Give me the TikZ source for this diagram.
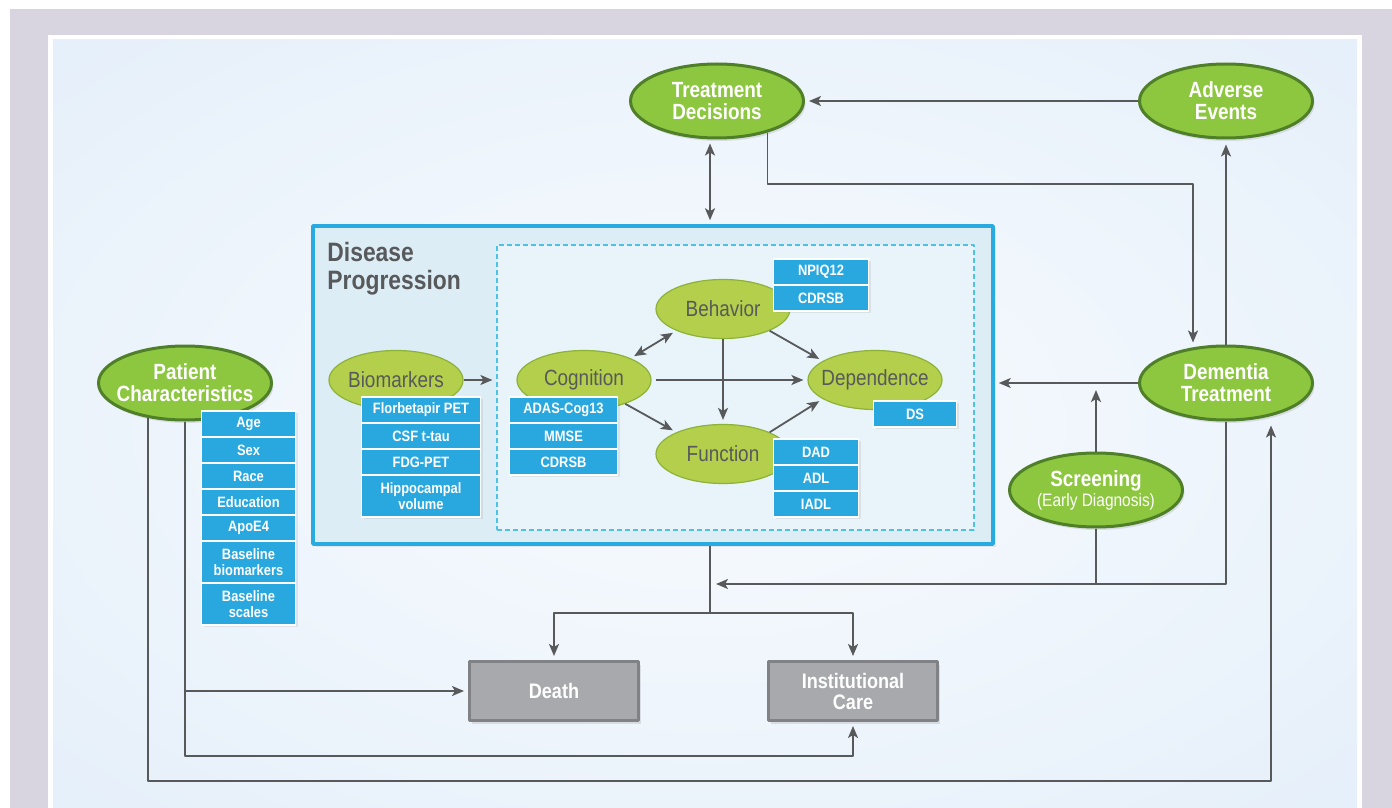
\documentclass[tikz,border=0pt]{standalone}
\usepackage{fontspec}
\setmainfont{Liberation Sans}[FakeStretch=0.86]
\usetikzlibrary{shapes.geometric,arrows.meta,positioning,shadows}

\definecolor{frame}{HTML}{D9D5E0}
\definecolor{panel}{HTML}{D3E4F5}
\definecolor{panelmid}{HTML}{F8FBFE}
\definecolor{dkgreen}{HTML}{8DC63F}
\definecolor{dkgreenline}{HTML}{4F7F28}
\definecolor{ltgreen}{HTML}{B3CF4B}
\definecolor{ltgreenline}{HTML}{8CB23A}
\definecolor{tagblue}{HTML}{29A8E0}
\definecolor{dpline}{HTML}{29ABE2}
\definecolor{dpfill}{HTML}{DCEDF6}
\definecolor{dashline}{HTML}{4EC2E2}
\definecolor{dashfill}{HTML}{E8F4FA}
\definecolor{txtgray}{HTML}{58595B}
\definecolor{boxfill}{HTML}{A7A9AC}
\definecolor{boxline}{HTML}{808285}

\tikzset{
  outer/.style={ellipse, draw=dkgreenline, fill=dkgreen, line width=1.5pt,
    minimum width=86.5pt, minimum height=37pt, inner ysep=0pt, inner xsep=-4pt,
    align=center, text=white, font=\bfseries\fontsize{11}{11}\selectfont,
    drop shadow={shadow xshift=1pt, shadow yshift=-1.5pt, opacity=.2}},
  inner/.style={ellipse, draw=ltgreenline, fill=ltgreen, line width=.6pt,
    minimum width=67pt, minimum height=29.5pt, inner ysep=0pt, inner xsep=-4pt,
    text=txtgray, font=\fontsize{11}{11}\selectfont},
  tag/.style={rectangle, draw=white, fill=tagblue, line width=.7pt,
    minimum height=13pt, inner sep=0pt, outer sep=0pt, align=center,
    text=white, font=\bfseries\fontsize{7.5}{8}\selectfont,
    drop shadow={shadow xshift=1pt, shadow yshift=-1pt, opacity=.15}},
  tagtwo/.style={tag, minimum height=21pt},
  outcome/.style={rectangle, draw=boxline, fill=boxfill, line width=1.5pt,
    minimum width=84.5pt, minimum height=29.5pt, inner sep=0pt, align=center,
    text=white, font=\bfseries\fontsize{10.5}{10.5}\selectfont,
    drop shadow={shadow xshift=1pt, shadow yshift=-1.5pt, opacity=.2}},
  dpbox/.style={rectangle, draw=dpline, fill=dpfill, line width=1.75pt,
    minimum width=340pt, minimum height=159pt,
    drop shadow={shadow xshift=1.5pt, shadow yshift=-1.5pt, opacity=.15}},
  dashbox/.style={rectangle, draw=dashline, fill=dashfill, line width=.6pt,
    dash pattern=on 2.5pt off 1.5pt, minimum width=238.5pt, minimum height=142.5pt},
  link/.style={draw=txtgray, line width=.9pt, ->},
  plain/.style={draw=txtgray, line width=.9pt},
}

\begin{document}
\begin{tikzpicture}[x=0.5pt, y=-0.5pt, line join=round,
  >={Stealth[length=6pt,width=5pt,inset=1.5pt]}]
\useasboundingbox (0,0) rectangle (1392,808);
% frame and panel
\fill[white] (0,0) rectangle (1392,808);
\fill[frame] (10,9) rectangle (1392,808);
\fill[white] (48,35) rectangle (1362,808);
\begin{scope}
  \clip (53,40) rectangle (1357,808);
  \shade[inner color=panelmid, outer color=panel] (705,424) ellipse (1844 and 1086);
\end{scope}

% disease progression
\node[dpbox] (dp) at (653,385) {};
\node[dashbox] (dash) at (735.5,387.5) {};
\node[anchor=north west, inner sep=0pt, align=left, text=txtgray,
  font=\bfseries\fontsize{13.3}{14}\selectfont] (dptitle) at (327,242) {Disease\\Progression};

\node[inner] (Bio) at (396,380) {Biomarkers};
\node[inner] (Cog) at (584,380) {Cognition};
\node[inner] (Beh) at (723,309) {Behavior};
\node[inner] (Dep) at (875,380) {Dependence};
\node[inner] (Fun) at (723,454) {Function};

% outer nodes
\node[outer] (PC) at (185,383) {Patient\\Characteristics};
\node[outer] (TD) at (717,101) {Treatment\\Decisions};
\node[outer] (AE) at (1226,101) {Adverse\\Events};
\node[outer] (DT) at (1226,383) {Dementia\\Treatment};
\node[outer] (Scr) at (1096,490) {Screening\\[-1pt]{\mdseries\fontsize{9}{9}\selectfont(Early Diagnosis)}};

% measures
\begin{scope}[every node/.append style={minimum width=47pt}]
\node[tag, anchor=north] (age) at (248.5,411) {Age};
\node[tag, below=0pt of age] (sex) {Sex};
\node[tag, below=0pt of sex] (race) {Race};
\node[tag, below=0pt of race] (edu) {Education};
\node[tag, below=0pt of edu] (apo) {ApoE4};
\node[tagtwo, below=0pt of apo] (basebio) {Baseline\\biomarkers};
\node[tagtwo, below=0pt of basebio] (basesc) {Baseline\\scales};
\end{scope}
\begin{scope}[every node/.append style={minimum width=59.5pt}]
\node[tag, anchor=north] (flor) at (421,397) {Florbetapir PET};
\node[tag, below=0pt of flor] (csf) {CSF t-tau};
\node[tag, below=0pt of csf] (fdg) {FDG-PET};
\node[tagtwo, below=0pt of fdg] (hip) {Hippocampal\\volume};
\end{scope}
\begin{scope}[every node/.append style={minimum width=54pt}]
\node[tag, anchor=north] (adas) at (563.5,397) {ADAS-Cog13};
\node[tag, below=0pt of adas] (mmse) {MMSE};
\node[tag, below=0pt of mmse] (cdrcog) {CDRSB};
\end{scope}
\begin{scope}[every node/.append style={minimum width=47.5pt}]
\node[tag, anchor=north] (npi) at (821,259) {NPIQ12};
\node[tag, below=0pt of npi] (cdrbeh) {CDRSB};
\end{scope}
\node[tag, anchor=north, minimum width=41.5pt] (ds) at (915,401) {DS};
\begin{scope}[every node/.append style={minimum width=42.5pt}]
\node[tag, anchor=north] (dad) at (816,439) {DAD};
\node[tag, below=0pt of dad] (adl) {ADL};
\node[tag, below=0pt of adl] (iadl) {IADL};
\end{scope}

% outcomes
\node[outcome] (death) at (554,691) {Death};
\node[outcome] (inst) at (853,691) {Institutional\\Care};

% turning points
\coordinate (jx) at (710,0);
\coordinate (split) at (710,613);
\coordinate (back) at (716,584);
\coordinate (tdbend) at (1193,184);
\coordinate (pcbend) at (1271,781);
\coordinate (icbend) at (853,756);

% connectors
\draw[link, shorten >=2pt] (AE.west) -- (TD.east);
\draw[link, <->, shorten >=2pt, shorten <=2pt] (TD.south -| jx) -- (dp.north -| jx);
\draw[link, shorten >=1pt] (TD.-32) |- (tdbend) -- (tdbend |- DT.north);
\draw[link, shorten >=2.5pt] (DT.north) -- (AE.south);
\draw[link, shorten >=2pt] (DT.west) -- (dp.east |- DT.west);
\draw[link, shorten >=3.5pt] (Scr.north) -- (Scr.north |- DT.west);
\draw[link] (DT.south) |- (back);
\draw[plain] (Scr.south) -- (Scr.south |- back);
\draw[plain] (dp.south -| jx) -- (split);
\draw[link, shorten >=2pt] (split) -| (death.north);
\draw[link, shorten >=2pt] (split) -| (inst.north);
\draw[link, shorten >=2pt] (PC.223) |- (pcbend) -- (pcbend |- DT.south);
\draw[link, shorten >=2pt] (PC.south) |- (icbend) -- (inst.south);
\draw[link, shorten >=2pt] (PC.south |- death.west) -- (death.west);

\draw[link, shorten >=2pt] (Bio.east) -- (dash.west |- Bio.east);
\draw[link, <->, shorten >=2pt, shorten <=2pt] (Cog.25) -- (Beh.205);
\draw[link, shorten >=2pt] (Beh.-25) -- (Dep.160);
\draw[link, shorten >=2pt, shorten <=2pt] (Cog.east) -- (Dep.west);
\draw[link, shorten >=2pt] (Beh.south) -- (Fun.north);
\draw[link, shorten >=2pt] (Cog.-30) -- (Fun.155);
\draw[link, shorten >=2pt] (Fun.25) -- (Dep.200);
\end{tikzpicture}
\end{document}
